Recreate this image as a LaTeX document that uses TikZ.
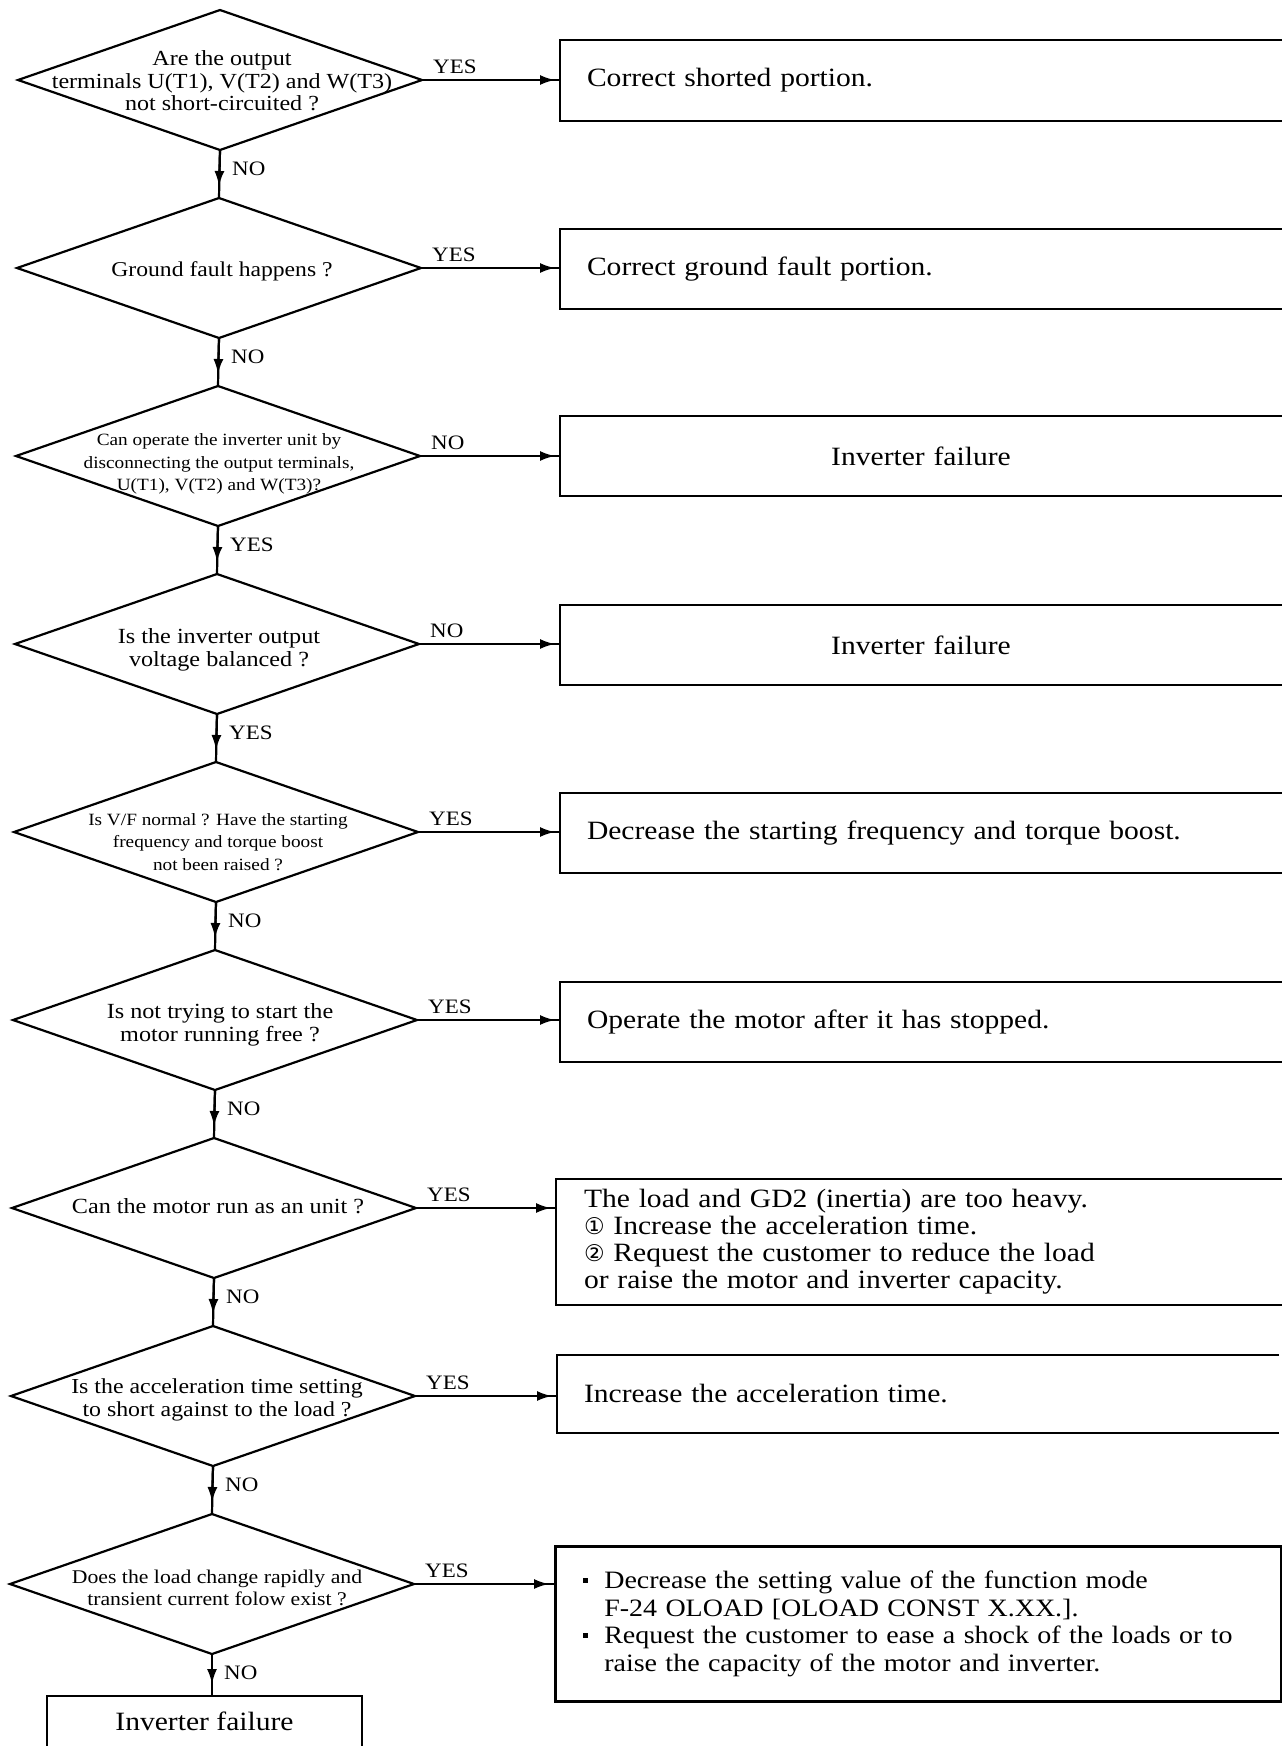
\documentclass[tikz,border=0pt]{standalone}
\usepackage{fontspec}
\setmainfont{Liberation Serif}[FakeStretch=1.12]
\newfontfamily\circfont{DejaVu Sans}
\usetikzlibrary{shapes.geometric,arrows.meta,calc}

% small square bullet with its indent
\newcommand\sqitem{\makebox[21pt][l]{\raisebox{6pt}{\rule{5pt}{5pt}}}}
\newcommand\contline{\hspace*{21pt}}

\tikzset{
  decision/.style={diamond, draw, line width=2.2pt, minimum width=404pt,
    minimum height=140pt, inner sep=0pt, outer sep=0pt},
  qtext/.style={align=center, inner sep=0pt, font=\fontsize{#1}{22.5}\selectfont},
  qtext/.default=21.5,
  boxfont/.style={font=\fontsize{26.4}{27}\selectfont},
  actbox/.style={boxfont, anchor=west, inner xsep=27pt, inner ysep=0pt,
    outer sep=0pt, text width=668pt, minimum height=80pt},
  boxline/.style={line width=2.6pt, line join=miter},
  conn/.style={line width=2.2pt},
  tip/.style={line width=2.2pt, -{Latex[length=15pt,width=10pt]}},
  lbl/.style={anchor=west, inner sep=0pt, font=\fontsize{20.5}{22}\selectfont},
}

\begin{document}
\begin{tikzpicture}[x=1pt, y=-1pt]
\fill[white] (0,0) rectangle (1282,1746);
\useasboundingbox (0,0) rectangle (1282,1746);

% decision diamonds
\node[decision] (d1) at (220,80)   {};
\node[decision] (d2) at (219,268)  {};
\node[decision] (d3) at (218,456)  {};
\node[decision] (d4) at (217,644)  {};
\node[decision] (d5) at (216,832)  {};
\node[decision] (d6) at (215,1020) {};
\node[decision] (d7) at (214,1208) {};
\node[decision] (d8) at (213,1396) {};
\node[decision] (d9) at (212,1584) {};

% questions
\node[qtext=21.5] (q1) at ($(d1)+(2,1)$) {Are the output\\terminals U(T1), V(T2) and W(T3)\\not short-circuited ?};
\node[qtext=21.1] (q2) at ($(d2)+(3,3)$) {Ground fault happens ?};
\node[qtext=17.2] (q3) at ($(d3)+(1,8)$) {Can operate the inverter unit by\\disconnecting the output terminals,\\U(T1), V(T2) and W(T3)?};
\node[qtext=21.6] (q4) at ($(d4)+(2,6)$) {Is the inverter output\\voltage balanced ?};
\node[qtext=17.2] (q5) at ($(d5)+(2,10)$) {Is V/F normal ? Have the starting\\frequency and torque boost\\not been raised ?};
\node[qtext=21.6] (q6) at ($(d6)+(5,5)$) {Is not trying to start the\\motor running free ?};
\node[qtext=21.6] (q7) at ($(d7)+(4,-2)$) {Can the motor run as an unit ?};
\node[qtext=21.3] (q8) at ($(d8)+(4,4)$) {Is the acceleration time setting\\to short against to the load ?};
\node[qtext=19.4] (q9) at ($(d9)+(5,4)$) {Does the load change rapidly and\\transient current folow exist ?};

% action boxes, open on the right side
\node[actbox, minimum height=81pt] (b1) at (560,80.5) {Correct shorted portion.};
\node[actbox] (b2) at (560,269) {Correct ground fault portion.};
\node[actbox, align=center] (b3) at (560,456) {Inverter failure};
\node[actbox, align=center] (b4) at (560,645) {Inverter failure};
\node[actbox] (b5) at (560,833) {Decrease the starting frequency and torque boost.};
\node[actbox] (b6) at (560,1022) {Operate the motor after it has stopped.};
\node[actbox, anchor=north west, minimum height=126pt, inner xsep=28pt, text width=670pt] (b7) at (556,1179)
  {The load and GD2 (inertia) are too heavy.\\
   {\circfont\fontsize{23}{27}\selectfont ①} Increase the acceleration time.\\
   {\circfont\fontsize{23}{27}\selectfont ②} Request the customer to reduce the load\\
   or raise the motor and inverter capacity.};
\node[actbox, minimum height=78pt] (b8) at (557,1394) {Increase the acceleration time.};

\foreach \b in {b1,b2,b3,b4,b5,b6,b7,b8}
  \draw[boxline] (\b.north east) -- (\b.north west) -- (\b.south west) -- (\b.south east);

% closed box for the last answer
\node[font=\fontsize{25}{27.5}\selectfont, draw, line width=2.6pt, anchor=north west, minimum width=726pt,
  minimum height=155pt, inner xsep=28pt, inner ysep=0pt, text width=670pt, align=left] (b9) at (554,1545)
  {\sqitem Decrease the setting value of the function mode\\
   \contline F-24 OLOAD [OLOAD CONST X.XX.].\\
   \sqitem Request the customer to ease a shock of the loads or to\\
   \contline raise the capacity of the motor and inverter.};

% final box, running off the bottom edge
\node[boxfont, anchor=north, minimum width=315pt, minimum height=50pt, inner sep=0pt, outer sep=0pt] (fb) at (204.5,1696) {Inverter failure};
\draw[boxline] (fb.south west) -- (fb.north west) -- (fb.north east) -- (fb.south east);

% connectors to the action boxes
\foreach \i in {1,...,9} {
  \draw[conn] (d\i.east) -- (d\i.east -| b\i.west);
  \draw[tip] (d\i.east) -- ($(d\i.east -| b\i.west)+(-5,0)$);
}

% connectors between decisions
\foreach \i/\j in {1/2,2/3,3/4,4/5,5/6,6/7,7/8,8/9} {
  \draw[conn] (d\i.south) -- (d\j.north);
  \draw[tip] (d\i.south) -- ($(d\j.north)+(0,-12)$);
}
\draw[conn] (d9.south) -- (d9.south |- fb.north);
\draw[tip] (d9.south) -- ($(d9.south |- fb.north)+(0,-12)$);

% answer labels beside the connectors
\node[lbl] (r1) at ($(d1.east)+(11,-13)$) {YES};
\node[lbl] (r2) at ($(d2.east)+(11,-13)$) {YES};
\node[lbl] (r3) at ($(d3.east)+(11,-13)$) {NO};
\node[lbl] (r4) at ($(d4.east)+(11,-13)$) {NO};
\node[lbl] (r5) at ($(d5.east)+(11,-13)$) {YES};
\node[lbl] (r6) at ($(d6.east)+(11,-13)$) {YES};
\node[lbl] (r7) at ($(d7.east)+(11,-13)$) {YES};
\node[lbl] (r8) at ($(d8.east)+(11,-13)$) {YES};
\node[lbl] (r9) at ($(d9.east)+(11,-13)$) {YES};

\node[lbl] (s1) at ($(d1.south)+(12,19)$) {NO};
\node[lbl] (s2) at ($(d2.south)+(12,19)$) {NO};
\node[lbl] (s3) at ($(d3.south)+(12,19)$) {YES};
\node[lbl] (s4) at ($(d4.south)+(12,19)$) {YES};
\node[lbl] (s5) at ($(d5.south)+(12,19)$) {NO};
\node[lbl] (s6) at ($(d6.south)+(12,19)$) {NO};
\node[lbl] (s7) at ($(d7.south)+(12,19)$) {NO};
\node[lbl] (s8) at ($(d8.south)+(12,19)$) {NO};
\node[lbl] (s9) at ($(d9.south)+(12,19)$) {NO};
\end{tikzpicture}
\end{document}
